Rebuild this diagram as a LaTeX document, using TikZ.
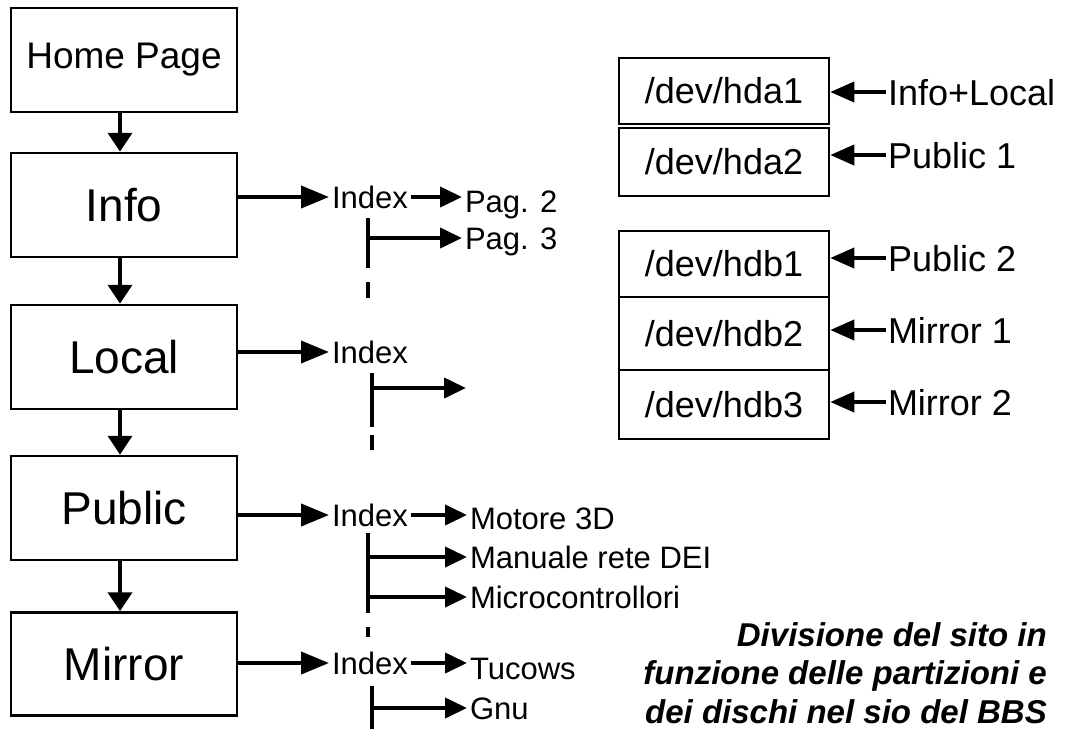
\documentclass[tikz,border=0pt]{standalone}
\usepackage{fontspec}
\setmainfont{Liberation Sans}
\usetikzlibrary{arrows.meta}
\begin{document}
\begin{tikzpicture}[x=1pt,y=-1pt,
  pagebox/.style={draw,line width=2.5pt,minimum width=226pt,inner sep=0pt,font=\fontsize{46}{50}\selectfont},
  devbox/.style={draw,line width=2.5pt,minimum width=210pt,inner sep=0pt,font=\fontsize{36}{40}\selectfont},
  lbl/.style={inner sep=0pt,outer sep=3pt,anchor=west,text height=22pt,text depth=0pt,font=\fontsize{31}{34}\selectfont},
  devlbl/.style={inner sep=0pt,outer sep=2pt,anchor=west,text height=26pt,text depth=0pt,font=\fontsize{36}{40}\selectfont},
  downarr/.style={line width=4pt,-{Triangle[length=19pt,width=24pt]}},
  boxarr/.style={line width=4pt,-{Triangle[length=28pt,width=22pt]}},
  smallarr/.style={line width=4pt,-{Triangle[length=22pt,width=20pt]}},
  devarr/.style={line width=4pt,-{Triangle[length=24pt,width=20pt]}},
  trunk/.style={line width=4pt},
  caption/.style={inner sep=0pt,anchor=east,align=right,font=\fontsize{33}{38.5}\selectfont\bfseries\itshape}
]
\useasboundingbox (0,0) rectangle (1066,729);

% left column
\node[pagebox,minimum height=104pt,font=\fontsize{37}{40}\selectfont] (home) at (124,60) {Home Page};
\node[pagebox,minimum height=104pt] (info) at (124,205) {Info};
\node[pagebox,minimum height=104pt] (local) at (124,357) {Local};
\node[pagebox,minimum height=104pt] (public) at (124,508) {Public};
\node[pagebox,minimum height=103pt] (mirror) at (124,664) {Mirror};

\draw[downarr] (home.south -| 120,0) -- (info.north -| 120,0);
\draw[downarr] (info.south -| 120,0) -- (local.north -| 120,0);
\draw[downarr] (local.south -| 120,0) -- (public.north -| 120,0);
\draw[downarr] (public.south -| 120,0) -- (mirror.north -| 120,0);

% Info branch
\node[lbl] (idx1) at (329,197) {Index};
\node[lbl] (pag2) at (462,201) {Pag. 2};
\node[lbl] (pag3) at (462,238) {Pag. 3};
\draw[boxarr] (idx1.west -| info.east) -- (idx1.west);
\draw[smallarr] (idx1.east) -- (pag2.west |- idx1.east);
\coordinate (t1a) at (368,218);
\coordinate (t1b) at (368,268);
\coordinate (t1c) at (368,282);
\coordinate (t1d) at (368,298);
\draw[trunk] (t1a) -- (t1b);
\draw[trunk] (t1c) -- (t1d);
\draw[smallarr] (t1a |- pag3.west) -- (pag3.west);

% Local branch
\node[lbl] (idx2) at (329,352) {Index};
\draw[boxarr] (idx2.west -| local.east) -- (idx2.west);
\coordinate (t2a) at (372,373);
\coordinate (t2b) at (372,427);
\coordinate (t2c) at (372,435);
\coordinate (t2d) at (372,450);
\coordinate (t2e) at (466,388);
\draw[trunk] (t2a) -- (t2b);
\draw[trunk] (t2c) -- (t2d);
\draw[smallarr] (t2a |- t2e) -- (t2e);

% Public branch
\node[lbl] (idx3) at (329,515) {Index};
\node[lbl] (mot) at (467,518) {Motore 3D};
\node[lbl] (man) at (467,557) {Manuale rete DEI};
\node[lbl] (mic) at (467,597) {Microcontrollori};
\draw[boxarr] (idx3.west -| public.east) -- (idx3.west);
\draw[smallarr] (idx3.east) -- (mot.west |- idx3.east);
\coordinate (t3a) at (368,533);
\coordinate (t3b) at (368,613);
\coordinate (t3c) at (368,627);
\coordinate (t3d) at (368,637);
\draw[trunk] (t3a) -- (t3b);
\draw[trunk] (t3c) -- (t3d);
\draw[smallarr] (t3a |- man.west) -- (man.west);
\draw[smallarr] (t3a |- mic.west) -- (mic.west);

% Mirror branch
\node[lbl] (idx4) at (329,663) {Index};
\node[lbl] (tuc) at (467,668) {Tucows};
\node[lbl] (gnu) at (467,708) {Gnu};
\draw[boxarr] (idx4.west -| mirror.east) -- (idx4.west);
\draw[smallarr] (idx4.east) -- (tuc.west |- idx4.east);
\coordinate (t4a) at (372,686);
\coordinate (t4b) at (372,729);
\draw[trunk] (t4a) -- (t4b);
\draw[smallarr] (t4a |- gnu.west) -- (gnu.west);

% partitions
\node[devbox,minimum height=66pt] (hda1) at (724,91) {/dev/hda1};
\node[devbox,minimum height=68pt] (hda2) at (724,162) {/dev/hda2};
\node[devbox,minimum height=66pt] (hdb1) at (724,264) {/dev/hdb1};
\node[devbox,minimum height=73pt] (hdb2) at (724,333.5) {/dev/hdb2};
\node[devbox,minimum height=69pt] (hdb3) at (724,404.5) {/dev/hdb3};

\node[devlbl] (l1) at (886,92) {Info+Local};
\node[devlbl] (l2) at (886,155) {Public 1};
\node[devlbl] (l3) at (886,258) {Public 2};
\node[devlbl] (l4) at (886,330) {Mirror 1};
\node[devlbl] (l5) at (886,402) {Mirror 2};
\draw[devarr] (l1.west) -- (l1.west -| hda1.east);
\draw[devarr] (l2.west) -- (l2.west -| hda2.east);
\draw[devarr] (l3.west) -- (l3.west -| hdb1.east);
\draw[devarr] (l4.west) -- (l4.west -| hdb2.east);
\draw[devarr] (l5.west) -- (l5.west -| hdb3.east);

% caption
\node[caption] (cap) at (1047,673) {Divisione del sito in\\funzione delle partizioni e\\dei dischi nel sio del BBS};
\end{tikzpicture}
\end{document}
